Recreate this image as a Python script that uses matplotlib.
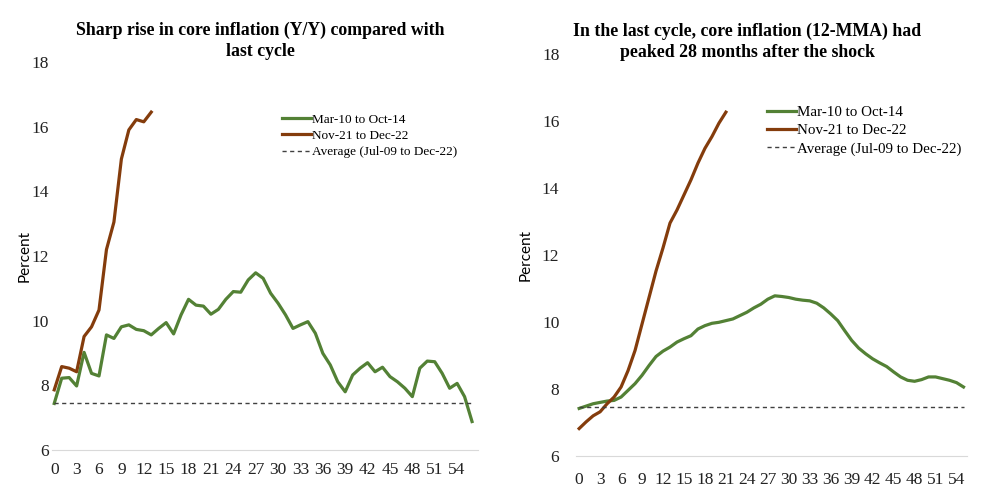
import matplotlib.pyplot as plt

# Left panel: core inflation Y/Y, months since start of cycle
yy_last = [7.44, 8.22, 8.24, 7.98, 9.02, 8.37, 8.29, 9.56, 9.45, 9.81,
           9.87, 9.73, 9.69, 9.56, 9.76, 9.94, 9.59, 10.18, 10.66, 10.48,
           10.45, 10.20, 10.35, 10.66, 10.90, 10.88, 11.26, 11.48, 11.31, 10.85,
           10.54, 10.18, 9.76, 9.87, 9.97, 9.61, 8.99, 8.63, 8.11, 7.80,
           8.32, 8.53, 8.70, 8.42, 8.56, 8.27, 8.11, 7.91, 7.65, 8.53,
           8.75, 8.73, 8.37, 7.91, 8.06, 7.65, 6.88]
yy_now = [7.86, 8.58, 8.53, 8.42, 9.51, 9.81, 10.33, 12.2, 13.05, 15.0,
          15.9, 16.22, 16.15, 16.45]

# Right panel: core inflation 12-MMA
mma_last = [7.41, 7.48, 7.55, 7.59, 7.63, 7.65, 7.75, 7.95, 8.15, 8.40,
            8.69, 8.96, 9.12, 9.24, 9.39, 9.49, 9.58, 9.78, 9.88, 9.95,
            9.98, 10.03, 10.08, 10.18, 10.28, 10.41, 10.52, 10.67, 10.77, 10.75,
            10.72, 10.67, 10.64, 10.62, 10.55, 10.41, 10.23, 10.03, 9.73, 9.44,
            9.21, 9.04, 8.89, 8.77, 8.66, 8.50, 8.35, 8.25, 8.22, 8.27,
            8.35, 8.35, 8.30, 8.25, 8.18, 8.05]
mma_now = [6.81, 7.01, 7.19, 7.31, 7.55, 7.75, 8.05, 8.54, 9.14, 9.93,
           10.72, 11.51, 12.2, 12.94, 13.33, 13.78, 14.23, 14.73, 15.17, 15.52,
           15.92, 16.25]

avg_left = 7.44
avg_right = 7.46

labels = ["Mar-10 to Oct-14", "Nov-21 to Dec-22", "Average (Jul-09 to Dec-22)"]
titles = ["Sharp rise in core inflation (Y/Y) compared with\nlast cycle",
          "In the last cycle, core inflation (12-MMA) had\npeaked 28 months after the shock"]

green = "#538135"
brown = "#843c0c"

plt.rcParams['font.family'] = ['Liberation Serif', 'DejaVu Serif']

fig = plt.figure(figsize=(10, 5), dpi=100)
ax1 = fig.add_axes([0.052, 0.100, 0.426, 0.776])
ax2 = fig.add_axes([0.576, 0.0886, 0.391, 0.8044])


def style(ax, last, now, avg, xlim, pad, xpad, legsize, hlen, leg_anchor):
    ax.plot(range(len(last)), last, color=green, lw=2.3, label=labels[0])
    ax.plot(range(len(now)), now, color=brown, lw=2.3, label=labels[1])
    ax.plot([0, len(last) - 1], [avg, avg], color="#404040", lw=1,
            ls=(0, (3, 2.5)), label=labels[2])
    ax.set_xlim(*xlim)
    ax.set_ylim(6, 18)
    ax.set_yticks(range(6, 19, 2))
    ax.set_xticks(range(0, 55, 3))
    for s in ["top", "right", "left"]:
        ax.spines[s].set_visible(False)
    ax.spines["bottom"].set_color("#d9d9d9")
    ax.tick_params(length=0, labelsize=12.5, colors="#222222")
    ax.tick_params(axis="y", pad=pad)
    ax.tick_params(axis="x", pad=xpad)
    ax.set_ylabel("Percent", fontsize=11, family=['Lato', 'DejaVu Sans'])
    ax.legend(loc="upper left", bbox_to_anchor=leg_anchor,
              bbox_transform=fig.transFigure, frameon=False,
              fontsize=legsize, handlelength=hlen, handletextpad=0.05,
              labelspacing=0.3, borderaxespad=0, borderpad=0)


style(ax1, yy_last, yy_now, avg_left, (-0.3, 56.8), 2, 9, 9.5, 2.2, (0.282, 0.773))
style(ax2, mma_last, mma_now, avg_right, (-0.45, 55.5), 12, 12, 10.8, 1.95, (0.767, 0.788))
ax1.yaxis.set_label_coords(-0.048, 0.5)
ax2.yaxis.set_label_coords(-0.112, 0.5)

fig.text(0.260, 0.918, titles[0], ha="center", va="center", fontsize=12.8,
         fontweight="bold", linespacing=1.3)
fig.text(0.747, 0.916, titles[1], ha="center", va="center", fontsize=12.8,
         fontweight="bold", linespacing=1.3)

fig.savefig("out.png", dpi=100)
